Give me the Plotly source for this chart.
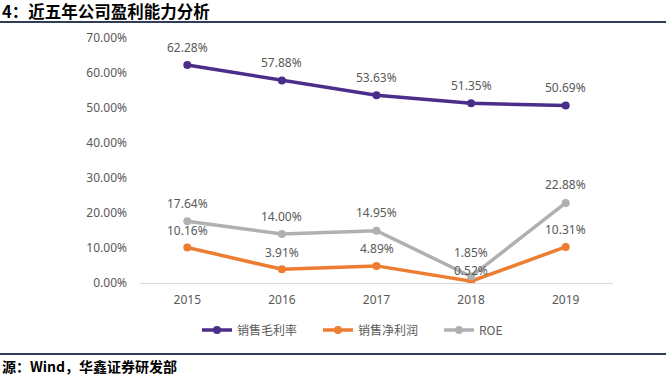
import plotly.graph_objects as go

years = ["2015", "2016", "2017", "2018", "2019"]
gross_margin = [62.28, 57.88, 53.63, 51.35, 50.69]
net_margin = [10.16, 3.91, 4.89, 0.52, 10.31]
roe = [17.64, 14.00, 14.95, 1.85, 22.88]
y_ticks = [0, 10, 20, 30, 40, 50, 60, 70]
y_tick_labels = ["0.00%", "10.00%", "20.00%", "30.00%", "40.00%", "50.00%", "60.00%", "70.00%"]

series = [
    ("销售毛利率", gross_margin, "#4B2D8A", [18, 18, 18, 18, 18]),
    ("销售净利润", net_margin, "#ED7D31", [17, 17, 17, 11, 17]),
    ("ROE", roe, "#B0B0B0", [18, 18, 18, 24, 18]),
]

fig = go.Figure()
annotations = []
for name, vals, color, shifts in series:
    fig.add_trace(go.Scatter(
        x=years, y=vals, name=name, mode="lines+markers",
        line=dict(color=color, width=3.5),
        marker=dict(color=color, size=8),
    ))
    for i, (yv, s) in enumerate(zip(vals, shifts)):
        annotations.append(dict(
            x=i, y=yv, xref="x", yref="y", text=f"{yv:.2f}%",
            showarrow=False, yshift=s, xanchor="center", yanchor="middle",
            font=dict(family="Noto Sans", size=12, color="#595959"),
        ))

W, H = 666, 379
L, R, T, B = 140, 53, 38, 96
pw, ph = W - L - R, H - T - B

def px_x(x):
    return (x - L) / pw

def px_y(y):
    return (H - B - y) / ph

annotations.append(dict(
    x=px_x(0), y=px_y(11), xref="paper", yref="paper",
    text="<b>4：近五年公司盈利能力分析</b>", showarrow=False,
    xanchor="left", yanchor="middle",
    font=dict(family="Noto Sans CJK SC", size=16.5, color="#000000"),
))
annotations.append(dict(
    x=px_x(0), y=px_y(366), xref="paper", yref="paper",
    text="<b>源：Wind，华鑫证券研发部</b>", showarrow=False,
    xanchor="left", yanchor="middle",
    font=dict(family="Noto Sans CJK SC", size=14, color="#000000"),
))

shapes = [
    dict(type="line", xref="paper", yref="paper", x0=px_x(0), x1=px_x(666),
         y0=px_y(22), y1=px_y(22), line=dict(color="#2F3E55", width=2)),
    dict(type="line", xref="paper", yref="paper", x0=px_x(0), x1=px_x(666),
         y0=px_y(354), y1=px_y(354), line=dict(color="#2F3E55", width=2)),
]

fig.update_layout(
    width=W, height=H,
    margin=dict(l=L, r=R, t=T, b=B),
    paper_bgcolor="white", plot_bgcolor="white",
    font=dict(family="Noto Sans", size=12, color="#595959"),
    showlegend=True,
    legend=dict(orientation="h", x=px_x(197), xanchor="left", y=px_y(330), yanchor="middle",
                font=dict(family="Noto Sans CJK SC", size=12, color="#595959"),
                itemwidth=30, tracegroupgap=0, entrywidth=76, entrywidthmode="pixels"),
    annotations=annotations,
    shapes=shapes,
    xaxis=dict(type="category", range=[-0.5, 4.5], showgrid=False, zeroline=False,
               showline=True, linecolor="#D9D9D9", linewidth=1, ticks="",
               tickfont=dict(family="Noto Sans", size=12, color="#595959"),
               ticklabelstandoff=6),
    yaxis=dict(range=[0, 70], tickvals=y_ticks, ticktext=y_tick_labels, showgrid=False,
               zeroline=False, showline=False, ticks="",
               tickfont=dict(family="Noto Sans", size=12, color="#595959"),
               ticklabelstandoff=12),
)

fig.write_html("out.html", config={"displayModeBar": False},
               post_script="document.body.style.margin='0';document.body.style.overflow='hidden';")
